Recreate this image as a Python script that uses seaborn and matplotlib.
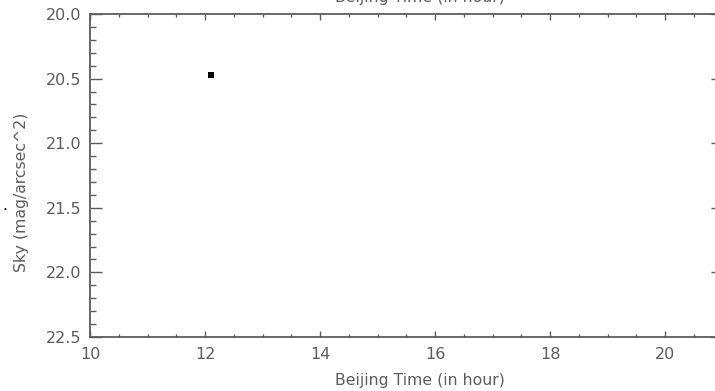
import matplotlib
matplotlib.use('Agg')
import matplotlib.pyplot as plt
import seaborn as sns
import pandas as pd
from matplotlib.ticker import MultipleLocator

# Datos
hora = [12.1]
cielo = [20.47]
xticks = [10, 12, 14, 16, 18, 20]
yticks = [20.0, 20.5, 21.0, 21.5, 22.0, 22.5]

df = pd.DataFrame({'hora': hora, 'cielo': cielo})

sns.set_style('ticks')
plt.rcParams['font.family'] = ['DejaVu Sans']
gris = '#5c5c5c'

fig = plt.figure(figsize=(7.15, 3.91), dpi=100)
ax = fig.add_axes([90 / 715, 1 - 337 / 391, 632.5 / 715, 323 / 391])

sns.scatterplot(data=df, x='hora', y='cielo', marker='s', s=24, color='black',
                edgecolor='black', linewidth=0, ax=ax)

ax.set_xlim(10, 21)
ax.set_ylim(22.5, 20.0)
ax.set_xticks(xticks)
ax.set_yticks(yticks)
ax.set_yticklabels([f'{v:.1f}' for v in yticks])
ax.xaxis.set_minor_locator(MultipleLocator(0.5))
ax.yaxis.set_minor_locator(MultipleLocator(0.1))

ax.tick_params(axis='x', which='major', direction='in', length=4.5, width=1, color=gris,
               top=True, bottom=True, labelsize=11.5, labelcolor=gris, pad=7)
ax.tick_params(axis='x', which='minor', direction='in', length=2.2, width=1, color=gris,
               top=True, bottom=True)
ax.tick_params(axis='y', which='major', direction='in', length=8.5, width=1, color=gris,
               left=True, right=True, labelsize=11.5, labelcolor=gris, pad=6)
ax.tick_params(axis='y', which='minor', direction='in', length=4.3, width=1, color=gris,
               left=True, right=True)
for s in ax.spines.values():
    s.set_color(gris)
    s.set_linewidth(1.3)

ax.set_xlabel('')
ax.set_ylabel('')
fig.text(420 / 715, 1 - 381 / 391, 'Beijing Time (in hour)', ha='center', va='center',
         fontsize=11.3, color=gris)
fig.text(420 / 715, 1 + 2 / 391, 'Beijing Time (in hour)', ha='center', va='center',
         fontsize=11.3, color=gris)
fig.text(22 / 715, 1 - 192 / 391, 'Sky (mag/arcsec^2)', ha='center', va='center',
         rotation=90, fontsize=11.3, color=gris)
fig.text(5 / 715, 1 - 206 / 391, '.', ha='center', va='center', fontsize=11, color='black')

fig.savefig('out.png', dpi=100)
